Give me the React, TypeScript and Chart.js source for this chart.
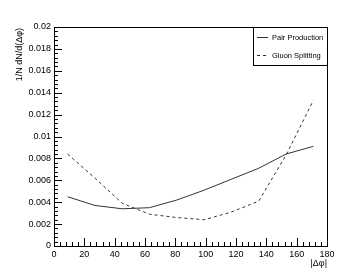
import React, { useEffect, useRef } from "react";
import { Chart, registerables } from "chart.js";

Chart.register(...registerables);

const binCenters = [9, 27, 45, 63, 81, 99, 117, 135, 153, 171];
const pairProduction = [0.0045, 0.0037, 0.0034, 0.0035, 0.0042, 0.0051, 0.0061, 0.0071, 0.0084, 0.0091];
const gluonSplitting = [0.0084, 0.0062, 0.0039, 0.0029, 0.0026, 0.0024, 0.0031, 0.0041, 0.0083, 0.0133];
const seriesNames = ["Pair Production", "Gluon Splitting"];
const xTitle = "|\u0394\u03c6|";
const yTitle = "1/N dN/d(\u0394\u03c6)";

const FONT = "'Liberation Sans', Arial, sans-serif";

const rootStyle = {
  id: "rootStyle",
  afterDraw(chart: any) {
    const ctx = chart.ctx;
    const a = chart.chartArea;
    const xs = chart.scales.x;
    const ys = chart.scales.y;
    ctx.save();
    ctx.strokeStyle = "#000";
    ctx.lineWidth = 1;
    // frame
    ctx.strokeRect(Math.round(a.left) + 0.5, Math.round(a.top) + 0.5, Math.round(a.right - a.left), Math.round(a.bottom - a.top));
    // y ticks
    ctx.beginPath();
    for (let i = 0; i <= 50; i++) {
      const py = Math.round(ys.getPixelForValue(i * 0.0004)) + 0.5;
      const len = i % 5 === 0 ? 8 : 4;
      ctx.moveTo(a.left, py);
      ctx.lineTo(a.left + len, py);
    }
    // x ticks
    for (let i = 0; i <= 45; i++) {
      const px = Math.round(xs.getPixelForValue(i * 4)) + 0.5;
      const len = i % 5 === 0 ? 8 : 4;
      ctx.moveTo(px, a.bottom);
      ctx.lineTo(px, a.bottom - len);
    }
    ctx.stroke();

    // axis titles
    ctx.fillStyle = "#000";
    ctx.font = `9px ${FONT}`;
    ctx.textAlign = "right";
    ctx.textBaseline = "middle";
    ctx.fillText(xTitle, a.right, 264);
    ctx.save();
    ctx.translate(20, a.top + 1);
    ctx.rotate(-Math.PI / 2);
    ctx.textAlign = "right";
    ctx.fillText(yTitle, 0, 0);
    ctx.restore();

    // legend
    const lx = 253.5, ly = Math.round(a.top) + 0.5, lw = Math.round(a.right) - 253, lh = 38;
    ctx.fillStyle = "#fff";
    ctx.fillRect(lx, ly, lw, lh);
    ctx.strokeStyle = "#000";
    ctx.strokeRect(lx, ly, lw, lh);
    ctx.strokeStyle = "#333";
    ctx.beginPath();
    ctx.moveTo(257, 37.5);
    ctx.lineTo(268, 37.5);
    ctx.stroke();
    ctx.setLineDash([3, 3]);
    ctx.beginPath();
    ctx.moveTo(257, 55.5);
    ctx.lineTo(269, 55.5);
    ctx.stroke();
    ctx.setLineDash([]);
    ctx.fillStyle = "#000";
    ctx.font = `7.5px ${FONT}`;
    ctx.textAlign = "left";
    ctx.textBaseline = "middle";
    ctx.fillText(seriesNames[0], 272, 37.5);
    ctx.fillText(seriesNames[1], 272, 55.5);
    ctx.restore();
  },
};

export default function App() {
  const ref = useRef<HTMLCanvasElement>(null);
  useEffect(() => {
    if (!ref.current) return;
    const chart = new Chart(ref.current, {
      type: "line",
      data: {
        datasets: [
          {
            label: seriesNames[0],
            data: binCenters.map((x, i) => ({ x, y: pairProduction[i] })),
            borderColor: "#333",
            borderWidth: 1,
            pointRadius: 0,
            tension: 0,
            fill: false,
          },
          {
            label: seriesNames[1],
            data: binCenters.map((x, i) => ({ x, y: gluonSplitting[i] })),
            borderColor: "#333",
            borderWidth: 1,
            borderDash: [3, 3],
            pointRadius: 0,
            tension: 0,
            fill: false,
          },
        ],
      },
      options: {
        animation: false,
        responsive: false,
        devicePixelRatio: 1,
        layout: { padding: { top: 27, right: 36, left: 0, bottom: 0 } },
        plugins: { legend: { display: false }, tooltip: { enabled: false } },
        scales: {
          x: {
            type: "linear",
            min: 0,
            max: 180,
            grid: { display: false, drawTicks: false },
            border: { display: false },
            ticks: {
              stepSize: 20,
              padding: 3,
              maxRotation: 0,
              autoSkip: false,
              color: "#000",
              font: { family: FONT, size: 9 },
            },
            afterFit: (s: any) => {
              s.height = 29;
            },
          },
          y: {
            type: "linear",
            min: 0,
            max: 0.02,
            grid: { display: false, drawTicks: false },
            border: { display: false },
            ticks: {
              stepSize: 0.002,
              padding: 3,
              autoSkip: false,
              color: "#000",
              font: { family: FONT, size: 9 },
              callback: (v: any) => String(Number(Number(v).toFixed(4))),
            },
            afterFit: (s: any) => {
              s.width = 54;
            },
          },
        },
      },
      plugins: [rootStyle],
    });
    return () => chart.destroy();
  }, []);
  return (
    <div style={{ position: "fixed", left: 0, top: 0, width: 363, height: 275, background: "#fff" }}>
      <canvas ref={ref} width={363} height={275} style={{ width: 363, height: 275, display: "block" }} />
    </div>
  );
}
